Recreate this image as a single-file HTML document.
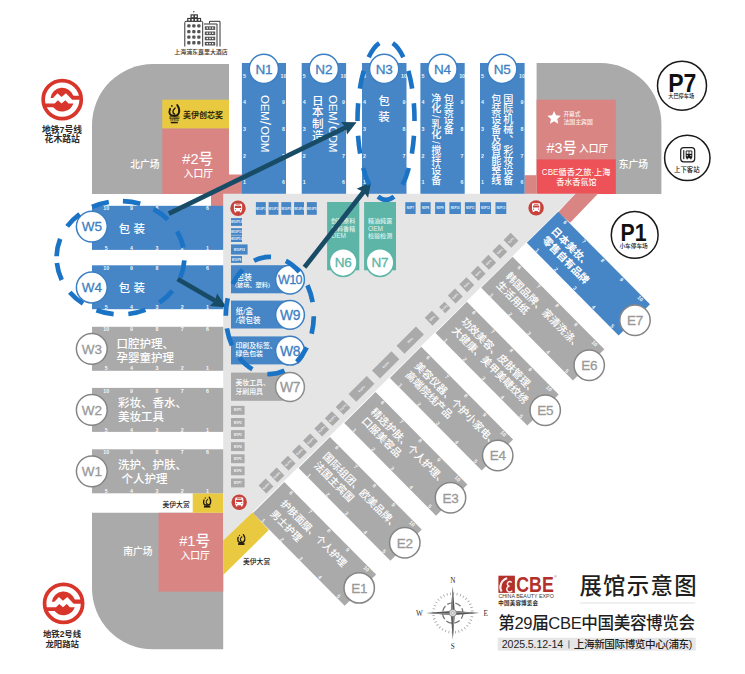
<!DOCTYPE html>
<html lang="zh-CN"><head><meta charset="utf-8"><title>展馆示意图</title>
<style>
html,body{margin:0;padding:0;background:#fff;}
body{width:745px;height:674px;overflow:hidden;}
svg{display:block;font-family:"Liberation Sans","Noto Sans CJK SC",sans-serif;}
</style></head><body>
<svg width="745" height="674" viewBox="0 0 745 674">
<rect width="745" height="674" fill="#fff"/>
<path d="M92 194 V125 A61 61 0 0 1 153 64 H229 V194 Z" fill="#aaaaaa"/>
<path d="M536.6 63 H600.4 A61 61 0 0 1 661.4 124 V194 H536.6 Z" fill="#aaaaaa"/>
<path d="M92 512.8 H223.2 V649.3 H153 A61 61 0 0 1 92 588.3 Z" fill="#aaaaaa"/>
<rect x="162.30" y="99.70" width="66.70" height="28.90" fill="#e9c93f" />
<rect x="162.30" y="128.60" width="66.70" height="65.40" fill="#d88584" />
<rect x="211.00" y="174.50" width="31.00" height="31.50" fill="#d88584" />
<rect x="536.60" y="99.70" width="79.20" height="59.60" fill="#d88584" />
<rect x="536.60" y="159.30" width="79.20" height="34.70" fill="#ee5259" />
<rect x="524.50" y="175.20" width="12.10" height="18.80" fill="#d88584" />
<polygon points="575.5,193.5 598.2,193.5 570.1,222.7 557.9,212.4" fill="#d88584"/>
<rect x="158.50" y="512.80" width="64.70" height="78.80" fill="#d88584" />
<rect x="192.70" y="493.30" width="30.50" height="19.50" fill="#e9c93f" />
<polygon points="223.2,193.8 575.7,193.8 223.2,541" fill="#e5e5e5"/>
<polygon points="223.2,540.5 252.4,512.4 268.8,530.1 223.2,574.9" fill="#e9c93f"/>
<rect x="241.90" y="63.00" width="44.10" height="130.80" fill="#4686c6" />
<text x="244.50" y="77.61" font-size="5.3" fill="#fff" text-anchor="middle" font-weight="700" fill-opacity="0.92" >5</text>
<text x="283.40" y="77.61" font-size="5.3" fill="#fff" text-anchor="middle" font-weight="700" fill-opacity="0.92" >10</text>
<text x="244.50" y="104.31" font-size="5.3" fill="#fff" text-anchor="middle" font-weight="700" fill-opacity="0.92" >4</text>
<text x="283.40" y="104.31" font-size="5.3" fill="#fff" text-anchor="middle" font-weight="700" fill-opacity="0.92" >9</text>
<text x="244.50" y="131.01" font-size="5.3" fill="#fff" text-anchor="middle" font-weight="700" fill-opacity="0.92" >3</text>
<text x="283.40" y="131.01" font-size="5.3" fill="#fff" text-anchor="middle" font-weight="700" fill-opacity="0.92" >8</text>
<text x="244.50" y="157.71" font-size="5.3" fill="#fff" text-anchor="middle" font-weight="700" fill-opacity="0.92" >2</text>
<text x="283.40" y="157.71" font-size="5.3" fill="#fff" text-anchor="middle" font-weight="700" fill-opacity="0.92" >7</text>
<text x="244.50" y="184.41" font-size="5.3" fill="#fff" text-anchor="middle" font-weight="700" fill-opacity="0.92" >1</text>
<text x="283.40" y="184.41" font-size="5.3" fill="#fff" text-anchor="middle" font-weight="700" fill-opacity="0.92" >6</text>
<rect x="301.70" y="63.00" width="44.40" height="130.80" fill="#4686c6" />
<text x="304.30" y="77.61" font-size="5.3" fill="#fff" text-anchor="middle" font-weight="700" fill-opacity="0.92" >5</text>
<text x="343.50" y="77.61" font-size="5.3" fill="#fff" text-anchor="middle" font-weight="700" fill-opacity="0.92" >10</text>
<text x="304.30" y="104.31" font-size="5.3" fill="#fff" text-anchor="middle" font-weight="700" fill-opacity="0.92" >4</text>
<text x="343.50" y="104.31" font-size="5.3" fill="#fff" text-anchor="middle" font-weight="700" fill-opacity="0.92" >9</text>
<text x="304.30" y="131.01" font-size="5.3" fill="#fff" text-anchor="middle" font-weight="700" fill-opacity="0.92" >3</text>
<text x="343.50" y="131.01" font-size="5.3" fill="#fff" text-anchor="middle" font-weight="700" fill-opacity="0.92" >8</text>
<text x="304.30" y="157.71" font-size="5.3" fill="#fff" text-anchor="middle" font-weight="700" fill-opacity="0.92" >2</text>
<text x="343.50" y="157.71" font-size="5.3" fill="#fff" text-anchor="middle" font-weight="700" fill-opacity="0.92" >7</text>
<text x="304.30" y="184.41" font-size="5.3" fill="#fff" text-anchor="middle" font-weight="700" fill-opacity="0.92" >1</text>
<text x="343.50" y="184.41" font-size="5.3" fill="#fff" text-anchor="middle" font-weight="700" fill-opacity="0.92" >6</text>
<rect x="362.00" y="63.00" width="44.50" height="130.80" fill="#4686c6" />
<text x="364.60" y="77.61" font-size="5.3" fill="#fff" text-anchor="middle" font-weight="700" fill-opacity="0.92" >5</text>
<text x="403.90" y="77.61" font-size="5.3" fill="#fff" text-anchor="middle" font-weight="700" fill-opacity="0.92" >10</text>
<text x="364.60" y="104.31" font-size="5.3" fill="#fff" text-anchor="middle" font-weight="700" fill-opacity="0.92" >4</text>
<text x="403.90" y="104.31" font-size="5.3" fill="#fff" text-anchor="middle" font-weight="700" fill-opacity="0.92" >9</text>
<text x="364.60" y="131.01" font-size="5.3" fill="#fff" text-anchor="middle" font-weight="700" fill-opacity="0.92" >3</text>
<text x="403.90" y="131.01" font-size="5.3" fill="#fff" text-anchor="middle" font-weight="700" fill-opacity="0.92" >8</text>
<text x="364.60" y="157.71" font-size="5.3" fill="#fff" text-anchor="middle" font-weight="700" fill-opacity="0.92" >2</text>
<text x="403.90" y="157.71" font-size="5.3" fill="#fff" text-anchor="middle" font-weight="700" fill-opacity="0.92" >7</text>
<text x="364.60" y="184.41" font-size="5.3" fill="#fff" text-anchor="middle" font-weight="700" fill-opacity="0.92" >1</text>
<text x="403.90" y="184.41" font-size="5.3" fill="#fff" text-anchor="middle" font-weight="700" fill-opacity="0.92" >6</text>
<rect x="420.40" y="63.00" width="44.30" height="130.80" fill="#4686c6" />
<text x="423.00" y="77.61" font-size="5.3" fill="#fff" text-anchor="middle" font-weight="700" fill-opacity="0.92" >5</text>
<text x="462.10" y="77.61" font-size="5.3" fill="#fff" text-anchor="middle" font-weight="700" fill-opacity="0.92" >10</text>
<text x="423.00" y="104.31" font-size="5.3" fill="#fff" text-anchor="middle" font-weight="700" fill-opacity="0.92" >4</text>
<text x="462.10" y="104.31" font-size="5.3" fill="#fff" text-anchor="middle" font-weight="700" fill-opacity="0.92" >9</text>
<text x="423.00" y="131.01" font-size="5.3" fill="#fff" text-anchor="middle" font-weight="700" fill-opacity="0.92" >3</text>
<text x="462.10" y="131.01" font-size="5.3" fill="#fff" text-anchor="middle" font-weight="700" fill-opacity="0.92" >8</text>
<text x="423.00" y="157.71" font-size="5.3" fill="#fff" text-anchor="middle" font-weight="700" fill-opacity="0.92" >2</text>
<text x="462.10" y="157.71" font-size="5.3" fill="#fff" text-anchor="middle" font-weight="700" fill-opacity="0.92" >7</text>
<text x="423.00" y="184.41" font-size="5.3" fill="#fff" text-anchor="middle" font-weight="700" fill-opacity="0.92" >1</text>
<text x="462.10" y="184.41" font-size="5.3" fill="#fff" text-anchor="middle" font-weight="700" fill-opacity="0.92" >6</text>
<rect x="480.00" y="63.00" width="44.60" height="130.80" fill="#4686c6" />
<text x="482.60" y="77.61" font-size="5.3" fill="#fff" text-anchor="middle" font-weight="700" fill-opacity="0.92" >5</text>
<text x="522.00" y="77.61" font-size="5.3" fill="#fff" text-anchor="middle" font-weight="700" fill-opacity="0.92" >10</text>
<text x="482.60" y="104.31" font-size="5.3" fill="#fff" text-anchor="middle" font-weight="700" fill-opacity="0.92" >4</text>
<text x="522.00" y="104.31" font-size="5.3" fill="#fff" text-anchor="middle" font-weight="700" fill-opacity="0.92" >9</text>
<text x="482.60" y="131.01" font-size="5.3" fill="#fff" text-anchor="middle" font-weight="700" fill-opacity="0.92" >3</text>
<text x="522.00" y="131.01" font-size="5.3" fill="#fff" text-anchor="middle" font-weight="700" fill-opacity="0.92" >8</text>
<text x="482.60" y="157.71" font-size="5.3" fill="#fff" text-anchor="middle" font-weight="700" fill-opacity="0.92" >2</text>
<text x="522.00" y="157.71" font-size="5.3" fill="#fff" text-anchor="middle" font-weight="700" fill-opacity="0.92" >7</text>
<text x="482.60" y="184.41" font-size="5.3" fill="#fff" text-anchor="middle" font-weight="700" fill-opacity="0.92" >1</text>
<text x="522.00" y="184.41" font-size="5.3" fill="#fff" text-anchor="middle" font-weight="700" fill-opacity="0.92" >6</text>
<rect x="92.00" y="449.30" width="131.20" height="44.00" fill="#aaaaaa" />
<text x="106.30" y="453.91" font-size="5.3" fill="#fff" text-anchor="middle" font-weight="700" fill-opacity="0.92" >10</text>
<text x="106.30" y="492.91" font-size="5.3" fill="#fff" text-anchor="middle" font-weight="700" fill-opacity="0.92" >5</text>
<text x="131.60" y="453.91" font-size="5.3" fill="#fff" text-anchor="middle" font-weight="700" fill-opacity="0.92" >9</text>
<text x="131.60" y="492.91" font-size="5.3" fill="#fff" text-anchor="middle" font-weight="700" fill-opacity="0.92" >4</text>
<text x="156.90" y="453.91" font-size="5.3" fill="#fff" text-anchor="middle" font-weight="700" fill-opacity="0.92" >8</text>
<text x="156.90" y="492.91" font-size="5.3" fill="#fff" text-anchor="middle" font-weight="700" fill-opacity="0.92" >3</text>
<text x="182.20" y="453.91" font-size="5.3" fill="#fff" text-anchor="middle" font-weight="700" fill-opacity="0.92" >7</text>
<text x="182.20" y="492.91" font-size="5.3" fill="#fff" text-anchor="middle" font-weight="700" fill-opacity="0.92" >2</text>
<text x="207.50" y="453.91" font-size="5.3" fill="#fff" text-anchor="middle" font-weight="700" fill-opacity="0.92" >6</text>
<text x="207.50" y="492.91" font-size="5.3" fill="#fff" text-anchor="middle" font-weight="700" fill-opacity="0.92" >1</text>
<rect x="92.00" y="387.90" width="131.20" height="44.00" fill="#aaaaaa" />
<text x="106.30" y="392.51" font-size="5.3" fill="#fff" text-anchor="middle" font-weight="700" fill-opacity="0.92" >10</text>
<text x="106.30" y="431.51" font-size="5.3" fill="#fff" text-anchor="middle" font-weight="700" fill-opacity="0.92" >5</text>
<text x="131.60" y="392.51" font-size="5.3" fill="#fff" text-anchor="middle" font-weight="700" fill-opacity="0.92" >9</text>
<text x="131.60" y="431.51" font-size="5.3" fill="#fff" text-anchor="middle" font-weight="700" fill-opacity="0.92" >4</text>
<text x="156.90" y="392.51" font-size="5.3" fill="#fff" text-anchor="middle" font-weight="700" fill-opacity="0.92" >8</text>
<text x="156.90" y="431.51" font-size="5.3" fill="#fff" text-anchor="middle" font-weight="700" fill-opacity="0.92" >3</text>
<text x="182.20" y="392.51" font-size="5.3" fill="#fff" text-anchor="middle" font-weight="700" fill-opacity="0.92" >7</text>
<text x="182.20" y="431.51" font-size="5.3" fill="#fff" text-anchor="middle" font-weight="700" fill-opacity="0.92" >2</text>
<text x="207.50" y="392.51" font-size="5.3" fill="#fff" text-anchor="middle" font-weight="700" fill-opacity="0.92" >6</text>
<text x="207.50" y="431.51" font-size="5.3" fill="#fff" text-anchor="middle" font-weight="700" fill-opacity="0.92" >1</text>
<rect x="92.00" y="326.80" width="131.20" height="44.00" fill="#aaaaaa" />
<text x="106.30" y="331.41" font-size="5.3" fill="#fff" text-anchor="middle" font-weight="700" fill-opacity="0.92" >10</text>
<text x="106.30" y="370.41" font-size="5.3" fill="#fff" text-anchor="middle" font-weight="700" fill-opacity="0.92" >5</text>
<text x="131.60" y="331.41" font-size="5.3" fill="#fff" text-anchor="middle" font-weight="700" fill-opacity="0.92" >9</text>
<text x="131.60" y="370.41" font-size="5.3" fill="#fff" text-anchor="middle" font-weight="700" fill-opacity="0.92" >4</text>
<text x="156.90" y="331.41" font-size="5.3" fill="#fff" text-anchor="middle" font-weight="700" fill-opacity="0.92" >8</text>
<text x="156.90" y="370.41" font-size="5.3" fill="#fff" text-anchor="middle" font-weight="700" fill-opacity="0.92" >3</text>
<text x="182.20" y="331.41" font-size="5.3" fill="#fff" text-anchor="middle" font-weight="700" fill-opacity="0.92" >7</text>
<text x="182.20" y="370.41" font-size="5.3" fill="#fff" text-anchor="middle" font-weight="700" fill-opacity="0.92" >2</text>
<text x="207.50" y="331.41" font-size="5.3" fill="#fff" text-anchor="middle" font-weight="700" fill-opacity="0.92" >6</text>
<text x="207.50" y="370.41" font-size="5.3" fill="#fff" text-anchor="middle" font-weight="700" fill-opacity="0.92" >1</text>
<rect x="92.00" y="265.30" width="131.20" height="43.90" fill="#4686c6" />
<text x="106.30" y="269.91" font-size="5.3" fill="#fff" text-anchor="middle" font-weight="700" fill-opacity="0.92" >10</text>
<text x="106.30" y="308.81" font-size="5.3" fill="#fff" text-anchor="middle" font-weight="700" fill-opacity="0.92" >5</text>
<text x="131.60" y="269.91" font-size="5.3" fill="#fff" text-anchor="middle" font-weight="700" fill-opacity="0.92" >9</text>
<text x="131.60" y="308.81" font-size="5.3" fill="#fff" text-anchor="middle" font-weight="700" fill-opacity="0.92" >4</text>
<text x="156.90" y="269.91" font-size="5.3" fill="#fff" text-anchor="middle" font-weight="700" fill-opacity="0.92" >8</text>
<text x="156.90" y="308.81" font-size="5.3" fill="#fff" text-anchor="middle" font-weight="700" fill-opacity="0.92" >3</text>
<text x="182.20" y="269.91" font-size="5.3" fill="#fff" text-anchor="middle" font-weight="700" fill-opacity="0.92" >7</text>
<text x="182.20" y="308.81" font-size="5.3" fill="#fff" text-anchor="middle" font-weight="700" fill-opacity="0.92" >2</text>
<text x="207.50" y="269.91" font-size="5.3" fill="#fff" text-anchor="middle" font-weight="700" fill-opacity="0.92" >6</text>
<text x="207.50" y="308.81" font-size="5.3" fill="#fff" text-anchor="middle" font-weight="700" fill-opacity="0.92" >1</text>
<rect x="92.00" y="205.80" width="131.20" height="44.10" fill="#4686c6" />
<text x="106.30" y="210.41" font-size="5.3" fill="#fff" text-anchor="middle" font-weight="700" fill-opacity="0.92" >10</text>
<text x="106.30" y="249.51" font-size="5.3" fill="#fff" text-anchor="middle" font-weight="700" fill-opacity="0.92" >5</text>
<text x="131.60" y="210.41" font-size="5.3" fill="#fff" text-anchor="middle" font-weight="700" fill-opacity="0.92" >9</text>
<text x="131.60" y="249.51" font-size="5.3" fill="#fff" text-anchor="middle" font-weight="700" fill-opacity="0.92" >4</text>
<text x="156.90" y="210.41" font-size="5.3" fill="#fff" text-anchor="middle" font-weight="700" fill-opacity="0.92" >8</text>
<text x="156.90" y="249.51" font-size="5.3" fill="#fff" text-anchor="middle" font-weight="700" fill-opacity="0.92" >3</text>
<text x="182.20" y="210.41" font-size="5.3" fill="#fff" text-anchor="middle" font-weight="700" fill-opacity="0.92" >7</text>
<text x="182.20" y="249.51" font-size="5.3" fill="#fff" text-anchor="middle" font-weight="700" fill-opacity="0.92" >2</text>
<text x="207.50" y="210.41" font-size="5.3" fill="#fff" text-anchor="middle" font-weight="700" fill-opacity="0.92" >6</text>
<text x="207.50" y="249.51" font-size="5.3" fill="#fff" text-anchor="middle" font-weight="700" fill-opacity="0.92" >1</text>
<g transform="translate(284.30,482.00) rotate(45.25)">
<rect x="0.00" y="0.00" width="130.40" height="44.20" fill="#aaaaaa" />
<text x="12.60" y="4.61" font-size="5.3" fill="#fff" text-anchor="middle" font-weight="700" fill-opacity="0.92" >6</text>
<text x="12.60" y="43.81" font-size="5.3" fill="#fff" text-anchor="middle" font-weight="700" fill-opacity="0.92" >1</text>
<text x="39.30" y="4.61" font-size="5.3" fill="#fff" text-anchor="middle" font-weight="700" fill-opacity="0.92" >7</text>
<text x="39.30" y="43.81" font-size="5.3" fill="#fff" text-anchor="middle" font-weight="700" fill-opacity="0.92" >2</text>
<text x="66.00" y="4.61" font-size="5.3" fill="#fff" text-anchor="middle" font-weight="700" fill-opacity="0.92" >8</text>
<text x="66.00" y="43.81" font-size="5.3" fill="#fff" text-anchor="middle" font-weight="700" fill-opacity="0.92" >3</text>
<text x="92.70" y="4.61" font-size="5.3" fill="#fff" text-anchor="middle" font-weight="700" fill-opacity="0.92" >9</text>
<text x="92.70" y="43.81" font-size="5.3" fill="#fff" text-anchor="middle" font-weight="700" fill-opacity="0.92" >4</text>
<text x="119.40" y="4.61" font-size="5.3" fill="#fff" text-anchor="middle" font-weight="700" fill-opacity="0.92" >10</text>
<text x="119.40" y="43.81" font-size="5.3" fill="#fff" text-anchor="middle" font-weight="700" fill-opacity="0.92" >5</text>
<text x="12.80" y="18.76" font-size="9.9" fill="#fff" text-anchor="start" font-weight="500" >护肤面膜、个人护理</text>
<text x="12.80" y="33.06" font-size="9.9" fill="#fff" text-anchor="start" font-weight="500" >男士护理</text>
</g>
<g transform="translate(329.95,436.95) rotate(45.25)">
<rect x="0.00" y="0.00" width="130.40" height="44.20" fill="#aaaaaa" />
<text x="12.60" y="4.61" font-size="5.3" fill="#fff" text-anchor="middle" font-weight="700" fill-opacity="0.92" >6</text>
<text x="12.60" y="43.81" font-size="5.3" fill="#fff" text-anchor="middle" font-weight="700" fill-opacity="0.92" >1</text>
<text x="39.30" y="4.61" font-size="5.3" fill="#fff" text-anchor="middle" font-weight="700" fill-opacity="0.92" >7</text>
<text x="39.30" y="43.81" font-size="5.3" fill="#fff" text-anchor="middle" font-weight="700" fill-opacity="0.92" >2</text>
<text x="66.00" y="4.61" font-size="5.3" fill="#fff" text-anchor="middle" font-weight="700" fill-opacity="0.92" >8</text>
<text x="66.00" y="43.81" font-size="5.3" fill="#fff" text-anchor="middle" font-weight="700" fill-opacity="0.92" >3</text>
<text x="92.70" y="4.61" font-size="5.3" fill="#fff" text-anchor="middle" font-weight="700" fill-opacity="0.92" >9</text>
<text x="92.70" y="43.81" font-size="5.3" fill="#fff" text-anchor="middle" font-weight="700" fill-opacity="0.92" >4</text>
<text x="119.40" y="4.61" font-size="5.3" fill="#fff" text-anchor="middle" font-weight="700" fill-opacity="0.92" >10</text>
<text x="119.40" y="43.81" font-size="5.3" fill="#fff" text-anchor="middle" font-weight="700" fill-opacity="0.92" >5</text>
<text x="8.80" y="19.41" font-size="10.3" fill="#fff" text-anchor="start" font-weight="500" >国际组团、欧美品牌、</text>
<text x="8.80" y="32.41" font-size="10.3" fill="#fff" text-anchor="start" font-weight="500" >法国主宾国</text>
</g>
<g transform="translate(375.60,391.90) rotate(45.25)">
<rect x="0.00" y="0.00" width="130.40" height="44.20" fill="#aaaaaa" />
<text x="12.60" y="4.61" font-size="5.3" fill="#fff" text-anchor="middle" font-weight="700" fill-opacity="0.92" >6</text>
<text x="12.60" y="43.81" font-size="5.3" fill="#fff" text-anchor="middle" font-weight="700" fill-opacity="0.92" >1</text>
<text x="39.30" y="4.61" font-size="5.3" fill="#fff" text-anchor="middle" font-weight="700" fill-opacity="0.92" >7</text>
<text x="39.30" y="43.81" font-size="5.3" fill="#fff" text-anchor="middle" font-weight="700" fill-opacity="0.92" >2</text>
<text x="66.00" y="4.61" font-size="5.3" fill="#fff" text-anchor="middle" font-weight="700" fill-opacity="0.92" >8</text>
<text x="66.00" y="43.81" font-size="5.3" fill="#fff" text-anchor="middle" font-weight="700" fill-opacity="0.92" >3</text>
<text x="92.70" y="4.61" font-size="5.3" fill="#fff" text-anchor="middle" font-weight="700" fill-opacity="0.92" >9</text>
<text x="92.70" y="43.81" font-size="5.3" fill="#fff" text-anchor="middle" font-weight="700" fill-opacity="0.92" >4</text>
<text x="119.40" y="4.61" font-size="5.3" fill="#fff" text-anchor="middle" font-weight="700" fill-opacity="0.92" >10</text>
<text x="119.40" y="43.81" font-size="5.3" fill="#fff" text-anchor="middle" font-weight="700" fill-opacity="0.92" >5</text>
<text x="10.80" y="18.21" font-size="10.3" fill="#fff" text-anchor="start" font-weight="500" >精选护肤、个人护理、</text>
<text x="10.80" y="31.21" font-size="10.3" fill="#fff" text-anchor="start" font-weight="500" >口服美容品</text>
</g>
<g transform="translate(421.25,346.85) rotate(45.25)">
<rect x="0.00" y="0.00" width="130.40" height="44.20" fill="#aaaaaa" />
<text x="12.60" y="4.61" font-size="5.3" fill="#fff" text-anchor="middle" font-weight="700" fill-opacity="0.92" >6</text>
<text x="12.60" y="43.81" font-size="5.3" fill="#fff" text-anchor="middle" font-weight="700" fill-opacity="0.92" >1</text>
<text x="39.30" y="4.61" font-size="5.3" fill="#fff" text-anchor="middle" font-weight="700" fill-opacity="0.92" >7</text>
<text x="39.30" y="43.81" font-size="5.3" fill="#fff" text-anchor="middle" font-weight="700" fill-opacity="0.92" >2</text>
<text x="66.00" y="4.61" font-size="5.3" fill="#fff" text-anchor="middle" font-weight="700" fill-opacity="0.92" >8</text>
<text x="66.00" y="43.81" font-size="5.3" fill="#fff" text-anchor="middle" font-weight="700" fill-opacity="0.92" >3</text>
<text x="92.70" y="4.61" font-size="5.3" fill="#fff" text-anchor="middle" font-weight="700" fill-opacity="0.92" >9</text>
<text x="92.70" y="43.81" font-size="5.3" fill="#fff" text-anchor="middle" font-weight="700" fill-opacity="0.92" >4</text>
<text x="119.40" y="4.61" font-size="5.3" fill="#fff" text-anchor="middle" font-weight="700" fill-opacity="0.92" >10</text>
<text x="119.40" y="43.81" font-size="5.3" fill="#fff" text-anchor="middle" font-weight="700" fill-opacity="0.92" >5</text>
<text x="8.80" y="18.91" font-size="10.3" fill="#fff" text-anchor="start" font-weight="500" >美容仪器、个护小家电、</text>
<text x="8.80" y="31.91" font-size="10.3" fill="#fff" text-anchor="start" font-weight="500" >高端院线产品</text>
</g>
<g transform="translate(466.90,301.80) rotate(45.25)">
<rect x="0.00" y="0.00" width="130.40" height="44.20" fill="#aaaaaa" />
<text x="12.60" y="4.61" font-size="5.3" fill="#fff" text-anchor="middle" font-weight="700" fill-opacity="0.92" >6</text>
<text x="12.60" y="43.81" font-size="5.3" fill="#fff" text-anchor="middle" font-weight="700" fill-opacity="0.92" >1</text>
<text x="39.30" y="4.61" font-size="5.3" fill="#fff" text-anchor="middle" font-weight="700" fill-opacity="0.92" >7</text>
<text x="39.30" y="43.81" font-size="5.3" fill="#fff" text-anchor="middle" font-weight="700" fill-opacity="0.92" >2</text>
<text x="66.00" y="4.61" font-size="5.3" fill="#fff" text-anchor="middle" font-weight="700" fill-opacity="0.92" >8</text>
<text x="66.00" y="43.81" font-size="5.3" fill="#fff" text-anchor="middle" font-weight="700" fill-opacity="0.92" >3</text>
<text x="92.70" y="4.61" font-size="5.3" fill="#fff" text-anchor="middle" font-weight="700" fill-opacity="0.92" >9</text>
<text x="92.70" y="43.81" font-size="5.3" fill="#fff" text-anchor="middle" font-weight="700" fill-opacity="0.92" >4</text>
<text x="119.40" y="4.61" font-size="5.3" fill="#fff" text-anchor="middle" font-weight="700" fill-opacity="0.92" >10</text>
<text x="119.40" y="43.81" font-size="5.3" fill="#fff" text-anchor="middle" font-weight="700" fill-opacity="0.92" >5</text>
<text x="9.80" y="18.71" font-size="10.3" fill="#fff" text-anchor="start" font-weight="500" >功效美容、皮肤管理、</text>
<text x="9.80" y="31.71" font-size="10.3" fill="#fff" text-anchor="start" font-weight="500" >大健康、美甲美睫纹绣</text>
</g>
<g transform="translate(512.55,256.75) rotate(45.25)">
<rect x="0.00" y="0.00" width="130.40" height="44.20" fill="#aaaaaa" />
<text x="12.60" y="4.61" font-size="5.3" fill="#fff" text-anchor="middle" font-weight="700" fill-opacity="0.92" >6</text>
<text x="12.60" y="43.81" font-size="5.3" fill="#fff" text-anchor="middle" font-weight="700" fill-opacity="0.92" >1</text>
<text x="39.30" y="4.61" font-size="5.3" fill="#fff" text-anchor="middle" font-weight="700" fill-opacity="0.92" >7</text>
<text x="39.30" y="43.81" font-size="5.3" fill="#fff" text-anchor="middle" font-weight="700" fill-opacity="0.92" >2</text>
<text x="66.00" y="4.61" font-size="5.3" fill="#fff" text-anchor="middle" font-weight="700" fill-opacity="0.92" >8</text>
<text x="66.00" y="43.81" font-size="5.3" fill="#fff" text-anchor="middle" font-weight="700" fill-opacity="0.92" >3</text>
<text x="92.70" y="4.61" font-size="5.3" fill="#fff" text-anchor="middle" font-weight="700" fill-opacity="0.92" >9</text>
<text x="92.70" y="43.81" font-size="5.3" fill="#fff" text-anchor="middle" font-weight="700" fill-opacity="0.92" >4</text>
<text x="119.40" y="4.61" font-size="5.3" fill="#fff" text-anchor="middle" font-weight="700" fill-opacity="0.92" >10</text>
<text x="119.40" y="43.81" font-size="5.3" fill="#fff" text-anchor="middle" font-weight="700" fill-opacity="0.92" >5</text>
<text x="8.80" y="19.41" font-size="10.3" fill="#fff" text-anchor="start" font-weight="500" >韩国品牌、家清洗涤、</text>
<text x="8.80" y="32.41" font-size="10.3" fill="#fff" text-anchor="start" font-weight="500" >生活用纸</text>
</g>
<g transform="translate(558.20,211.70) rotate(45.25)">
<rect x="0.00" y="0.00" width="130.40" height="44.20" fill="#4686c6" />
<text x="12.60" y="4.61" font-size="5.3" fill="#fff" text-anchor="middle" font-weight="700" fill-opacity="0.92" >6</text>
<text x="12.60" y="43.81" font-size="5.3" fill="#fff" text-anchor="middle" font-weight="700" fill-opacity="0.92" >1</text>
<text x="39.30" y="4.61" font-size="5.3" fill="#fff" text-anchor="middle" font-weight="700" fill-opacity="0.92" >7</text>
<text x="39.30" y="43.81" font-size="5.3" fill="#fff" text-anchor="middle" font-weight="700" fill-opacity="0.92" >2</text>
<text x="66.00" y="4.61" font-size="5.3" fill="#fff" text-anchor="middle" font-weight="700" fill-opacity="0.92" >8</text>
<text x="66.00" y="43.81" font-size="5.3" fill="#fff" text-anchor="middle" font-weight="700" fill-opacity="0.92" >3</text>
<text x="92.70" y="4.61" font-size="5.3" fill="#fff" text-anchor="middle" font-weight="700" fill-opacity="0.92" >9</text>
<text x="92.70" y="43.81" font-size="5.3" fill="#fff" text-anchor="middle" font-weight="700" fill-opacity="0.92" >4</text>
<text x="119.40" y="4.61" font-size="5.3" fill="#fff" text-anchor="middle" font-weight="700" fill-opacity="0.92" >10</text>
<text x="119.40" y="43.81" font-size="5.3" fill="#fff" text-anchor="middle" font-weight="700" fill-opacity="0.92" >5</text>
<text x="8.80" y="19.41" font-size="10.3" fill="#fff" text-anchor="start" font-weight="700" >日本美妆、</text>
<text x="8.80" y="32.41" font-size="10.3" fill="#fff" text-anchor="start" font-weight="700" >零售自有品牌</text>
</g>
<rect x="231.00" y="265.20" width="59.00" height="28.10" fill="#4686c6" />
<rect x="231.00" y="300.60" width="59.00" height="27.90" fill="#4686c6" />
<rect x="231.00" y="336.40" width="59.00" height="28.00" fill="#4686c6" />
<rect x="231.00" y="372.60" width="59.00" height="28.20" fill="#aaaaaa" />
<rect x="327.10" y="202.00" width="32.20" height="68.30" fill="#5cb5a6" />
<rect x="364.10" y="202.00" width="31.90" height="68.30" fill="#5cb5a6" />
<rect x="255.90" y="202.10" width="9.90" height="12.70" fill="#4686c6" />
<text x="260.85" y="209.55" font-size="2.9" fill="#fff" text-anchor="middle" font-weight="700" fill-opacity="0.95" >W10P1</text>
<rect x="268.60" y="202.10" width="9.90" height="12.70" fill="#4686c6" />
<text x="273.55" y="209.55" font-size="2.9" fill="#fff" text-anchor="middle" font-weight="700" fill-opacity="0.95" >W10P2</text>
<rect x="281.30" y="202.10" width="9.90" height="12.70" fill="#4686c6" />
<text x="286.25" y="209.55" font-size="2.9" fill="#fff" text-anchor="middle" font-weight="700" fill-opacity="0.95" >W10P3</text>
<rect x="294.10" y="202.10" width="9.90" height="12.70" fill="#4686c6" />
<text x="299.05" y="209.55" font-size="2.9" fill="#fff" text-anchor="middle" font-weight="700" fill-opacity="0.95" >W10P4</text>
<rect x="306.90" y="202.10" width="9.90" height="12.70" fill="#4686c6" />
<text x="311.85" y="209.55" font-size="2.9" fill="#fff" text-anchor="middle" font-weight="700" fill-opacity="0.95" >W10P5</text>
<rect x="231.00" y="218.10" width="11.00" height="7.80" fill="#4686c6" />
<text x="236.50" y="223.10" font-size="2.9" fill="#fff" text-anchor="middle" font-weight="700" fill-opacity="0.95" >W10P12</text>
<rect x="231.00" y="228.20" width="11.00" height="6.70" fill="#4686c6" />
<text x="236.50" y="232.65" font-size="2.9" fill="#fff" text-anchor="middle" font-weight="700" fill-opacity="0.95" >W10P11</text>
<rect x="231.00" y="235.40" width="11.00" height="6.60" fill="#4686c6" />
<text x="236.50" y="239.80" font-size="2.9" fill="#fff" text-anchor="middle" font-weight="700" fill-opacity="0.95" >W10P10</text>
<rect x="231.00" y="244.40" width="16.60" height="10.20" fill="#4686c6" />
<text x="239.30" y="250.60" font-size="2.9" fill="#fff" text-anchor="middle" font-weight="700" fill-opacity="0.95" >W10P18</text>
<rect x="231.00" y="256.10" width="11.00" height="6.80" fill="#4686c6" />
<text x="236.50" y="260.60" font-size="2.9" fill="#fff" text-anchor="middle" font-weight="700" fill-opacity="0.95" >W10P9</text>
<rect x="405.30" y="202.20" width="10.30" height="11.80" fill="#4686c6" />
<text x="410.45" y="209.20" font-size="2.9" fill="#fff" text-anchor="middle" font-weight="700" fill-opacity="0.95" >N5P7</text>
<rect x="420.60" y="202.20" width="10.00" height="11.80" fill="#4686c6" />
<text x="425.60" y="209.20" font-size="2.9" fill="#fff" text-anchor="middle" font-weight="700" fill-opacity="0.95" >N5P8</text>
<rect x="435.10" y="202.20" width="10.00" height="11.80" fill="#4686c6" />
<text x="440.10" y="209.20" font-size="2.9" fill="#fff" text-anchor="middle" font-weight="700" fill-opacity="0.95" >N5P9</text>
<rect x="449.40" y="202.20" width="11.50" height="11.80" fill="#4686c6" />
<text x="455.15" y="209.20" font-size="2.9" fill="#fff" text-anchor="middle" font-weight="700" fill-opacity="0.95" >N5P10</text>
<rect x="464.90" y="202.20" width="10.80" height="11.80" fill="#4686c6" />
<text x="470.30" y="209.20" font-size="2.9" fill="#fff" text-anchor="middle" font-weight="700" fill-opacity="0.95" >N5P11</text>
<rect x="480.00" y="202.20" width="11.00" height="11.80" fill="#4686c6" />
<text x="485.50" y="209.20" font-size="2.9" fill="#fff" text-anchor="middle" font-weight="700" fill-opacity="0.95" >N5P12</text>
<rect x="495.50" y="202.20" width="10.80" height="11.80" fill="#4686c6" />
<text x="500.90" y="209.20" font-size="2.9" fill="#fff" text-anchor="middle" font-weight="700" fill-opacity="0.95" >N5P13</text>
<rect x="231.00" y="405.90" width="13.60" height="8.90" fill="#aaaaaa" />
<text x="237.80" y="411.45" font-size="2.9" fill="#fff" text-anchor="middle" font-weight="700" fill-opacity="0.95" >W1P1</text>
<rect x="231.00" y="418.00" width="13.60" height="8.90" fill="#aaaaaa" />
<text x="237.80" y="423.55" font-size="2.9" fill="#fff" text-anchor="middle" font-weight="700" fill-opacity="0.95" >W1P2</text>
<rect x="231.00" y="430.10" width="13.60" height="8.90" fill="#aaaaaa" />
<text x="237.80" y="435.65" font-size="2.9" fill="#fff" text-anchor="middle" font-weight="700" fill-opacity="0.95" >W1P3</text>
<rect x="231.00" y="442.20" width="13.60" height="8.90" fill="#aaaaaa" />
<text x="237.80" y="447.75" font-size="2.9" fill="#fff" text-anchor="middle" font-weight="700" fill-opacity="0.95" >W1P4</text>
<rect x="231.00" y="454.30" width="13.60" height="8.90" fill="#aaaaaa" />
<text x="237.80" y="459.85" font-size="2.9" fill="#fff" text-anchor="middle" font-weight="700" fill-opacity="0.95" >W1P5</text>
<rect x="231.00" y="466.40" width="13.60" height="8.90" fill="#aaaaaa" />
<text x="237.80" y="471.95" font-size="2.9" fill="#fff" text-anchor="middle" font-weight="700" fill-opacity="0.95" >W1P6</text>
<rect x="231.00" y="478.50" width="13.60" height="8.90" fill="#aaaaaa" />
<text x="237.80" y="484.05" font-size="2.9" fill="#fff" text-anchor="middle" font-weight="700" fill-opacity="0.95" >W1P7</text>
<g transform="translate(511.00,240.30) rotate(-44.75)">
<rect x="-5.00" y="-5.50" width="10.00" height="11.00" fill="#aaaaaa" />
<text x="0.00" y="1.06" font-size="2.8" fill="#fff" text-anchor="middle" font-weight="700" fill-opacity="0.95" >E1P1</text>
</g>
<g transform="translate(499.80,251.40) rotate(-44.75)">
<rect x="-5.00" y="-5.50" width="10.00" height="11.00" fill="#aaaaaa" />
<text x="0.00" y="1.06" font-size="2.8" fill="#fff" text-anchor="middle" font-weight="700" fill-opacity="0.95" >E2P1</text>
</g>
<g transform="translate(488.70,262.30) rotate(-44.75)">
<rect x="-5.00" y="-5.50" width="10.00" height="11.00" fill="#aaaaaa" />
<text x="0.00" y="1.06" font-size="2.8" fill="#fff" text-anchor="middle" font-weight="700" fill-opacity="0.95" >E3P1</text>
</g>
<g transform="translate(478.20,273.30) rotate(-44.75)">
<rect x="-5.00" y="-5.50" width="10.00" height="11.00" fill="#aaaaaa" />
<text x="0.00" y="1.06" font-size="2.8" fill="#fff" text-anchor="middle" font-weight="700" fill-opacity="0.95" >E4P1</text>
</g>
<g transform="translate(466.80,284.70) rotate(-44.75)">
<rect x="-5.00" y="-5.50" width="10.00" height="11.00" fill="#aaaaaa" />
<text x="0.00" y="1.06" font-size="2.8" fill="#fff" text-anchor="middle" font-weight="700" fill-opacity="0.95" >E5P1</text>
</g>
<g transform="translate(455.30,296.00) rotate(-44.75)">
<rect x="-5.00" y="-5.50" width="10.00" height="11.00" fill="#aaaaaa" />
<text x="0.00" y="1.06" font-size="2.8" fill="#fff" text-anchor="middle" font-weight="700" fill-opacity="0.95" >E6P1</text>
</g>
<g transform="translate(444.80,307.50) rotate(-44.75)">
<rect x="-3.75" y="-4.25" width="7.50" height="8.50" fill="#aaaaaa" />
<text x="0.00" y="1.06" font-size="2.8" fill="#fff" text-anchor="middle" font-weight="700" fill-opacity="0.95" >E7P1</text>
</g>
<g transform="translate(432.20,318.20) rotate(-44.75)">
<rect x="-5.00" y="-5.50" width="10.00" height="11.00" fill="#aaaaaa" />
<text x="0.00" y="1.06" font-size="2.8" fill="#fff" text-anchor="middle" font-weight="700" fill-opacity="0.95" >E8P1</text>
</g>
<g transform="translate(410.20,340.20) rotate(-44.75)">
<rect x="-13.65" y="-5.65" width="27.30" height="11.30" fill="#aaaaaa" />
<text x="0.00" y="1.06" font-size="2.8" fill="#fff" text-anchor="middle" font-weight="700" fill-opacity="0.95" >E9P1</text>
</g>
<g transform="translate(385.70,364.80) rotate(-44.75)">
<rect x="-13.65" y="-5.65" width="27.30" height="11.30" fill="#aaaaaa" />
<text x="0.00" y="1.06" font-size="2.8" fill="#fff" text-anchor="middle" font-weight="700" fill-opacity="0.95" >E10P1</text>
</g>
<g transform="translate(361.50,388.90) rotate(-44.75)">
<rect x="-12.80" y="-5.50" width="25.60" height="11.00" fill="#aaaaaa" />
<text x="0.00" y="1.06" font-size="2.8" fill="#fff" text-anchor="middle" font-weight="700" fill-opacity="0.95" >E11P1</text>
</g>
<g transform="translate(343.10,407.40) rotate(-44.75)">
<rect x="-5.00" y="-5.50" width="10.00" height="11.00" fill="#aaaaaa" />
<text x="0.00" y="1.06" font-size="2.8" fill="#fff" text-anchor="middle" font-weight="700" fill-opacity="0.95" >E12P1</text>
</g>
<g transform="translate(332.20,418.60) rotate(-44.75)">
<rect x="-5.00" y="-5.50" width="10.00" height="11.00" fill="#aaaaaa" />
<text x="0.00" y="1.06" font-size="2.8" fill="#fff" text-anchor="middle" font-weight="700" fill-opacity="0.95" >E13P1</text>
</g>
<g transform="translate(321.80,429.00) rotate(-44.75)">
<rect x="-5.00" y="-5.50" width="10.00" height="11.00" fill="#aaaaaa" />
<text x="0.00" y="1.06" font-size="2.8" fill="#fff" text-anchor="middle" font-weight="700" fill-opacity="0.95" >E14P1</text>
</g>
<g transform="translate(310.50,440.90) rotate(-44.75)">
<rect x="-5.00" y="-5.50" width="10.00" height="11.00" fill="#aaaaaa" />
<text x="0.00" y="1.06" font-size="2.8" fill="#fff" text-anchor="middle" font-weight="700" fill-opacity="0.95" >E15P1</text>
</g>
<g transform="translate(299.50,451.90) rotate(-44.75)">
<rect x="-5.00" y="-5.50" width="10.00" height="11.00" fill="#aaaaaa" />
<text x="0.00" y="1.06" font-size="2.8" fill="#fff" text-anchor="middle" font-weight="700" fill-opacity="0.95" >E16P1</text>
</g>
<g transform="translate(288.20,463.10) rotate(-44.75)">
<rect x="-5.00" y="-5.50" width="10.00" height="11.00" fill="#aaaaaa" />
<text x="0.00" y="1.06" font-size="2.8" fill="#fff" text-anchor="middle" font-weight="700" fill-opacity="0.95" >E17P1</text>
</g>
<g transform="translate(277.00,475.00) rotate(-44.75)">
<rect x="-5.00" y="-5.50" width="10.00" height="11.00" fill="#aaaaaa" />
<text x="0.00" y="1.06" font-size="2.8" fill="#fff" text-anchor="middle" font-weight="700" fill-opacity="0.95" >E18P1</text>
</g>
<g transform="translate(266.00,486.00) rotate(-44.75)">
<rect x="-5.00" y="-5.50" width="10.00" height="11.00" fill="#aaaaaa" />
<text x="0.00" y="1.06" font-size="2.8" fill="#fff" text-anchor="middle" font-weight="700" fill-opacity="0.95" >E19P1</text>
</g>
<circle cx="263.85" cy="68.90" r="14.6" fill="#fff" stroke="#3d7fc3" stroke-width="1.5"/>
<text x="263.85" y="73.76" font-size="13.5" fill="#3d7fc3" text-anchor="middle" font-weight="400" letter-spacing="-0.2" stroke="#3d7fc3" stroke-width="0.3">N1</text>
<circle cx="323.80" cy="68.90" r="14.6" fill="#fff" stroke="#3d7fc3" stroke-width="1.5"/>
<text x="323.80" y="73.76" font-size="13.5" fill="#3d7fc3" text-anchor="middle" font-weight="400" letter-spacing="-0.2" stroke="#3d7fc3" stroke-width="0.3">N2</text>
<circle cx="384.15" cy="68.90" r="14.6" fill="#fff" stroke="#3d7fc3" stroke-width="1.5"/>
<text x="384.15" y="73.76" font-size="13.5" fill="#3d7fc3" text-anchor="middle" font-weight="400" letter-spacing="-0.2" stroke="#3d7fc3" stroke-width="0.3">N3</text>
<circle cx="442.45" cy="68.90" r="14.6" fill="#fff" stroke="#3d7fc3" stroke-width="1.5"/>
<text x="442.45" y="73.76" font-size="13.5" fill="#3d7fc3" text-anchor="middle" font-weight="400" letter-spacing="-0.2" stroke="#3d7fc3" stroke-width="0.3">N4</text>
<circle cx="502.20" cy="68.90" r="14.6" fill="#fff" stroke="#3d7fc3" stroke-width="1.5"/>
<text x="502.20" y="73.76" font-size="13.5" fill="#3d7fc3" text-anchor="middle" font-weight="400" letter-spacing="-0.2" stroke="#3d7fc3" stroke-width="0.3">N5</text>
<circle cx="91.80" cy="471.30" r="15.4" fill="#fff" stroke="#858585" stroke-width="1.5"/>
<text x="91.80" y="476.16" font-size="13.5" fill="#999" text-anchor="middle" font-weight="400" letter-spacing="-0.2" stroke="#999" stroke-width="0.3">W1</text>
<circle cx="91.80" cy="409.90" r="15.4" fill="#fff" stroke="#858585" stroke-width="1.5"/>
<text x="91.80" y="414.76" font-size="13.5" fill="#999" text-anchor="middle" font-weight="400" letter-spacing="-0.2" stroke="#999" stroke-width="0.3">W2</text>
<circle cx="91.80" cy="348.80" r="15.4" fill="#fff" stroke="#858585" stroke-width="1.5"/>
<text x="91.80" y="353.66" font-size="13.5" fill="#999" text-anchor="middle" font-weight="400" letter-spacing="-0.2" stroke="#999" stroke-width="0.3">W3</text>
<circle cx="91.80" cy="287.50" r="15.4" fill="#fff" stroke="#3d7fc3" stroke-width="1.5"/>
<text x="91.80" y="292.36" font-size="13.5" fill="#3d7fc3" text-anchor="middle" font-weight="400" letter-spacing="-0.2" stroke="#3d7fc3" stroke-width="0.3">W4</text>
<circle cx="91.80" cy="226.60" r="15.4" fill="#fff" stroke="#3d7fc3" stroke-width="1.5"/>
<text x="91.80" y="231.46" font-size="13.5" fill="#3d7fc3" text-anchor="middle" font-weight="400" letter-spacing="-0.2" stroke="#3d7fc3" stroke-width="0.3">W5</text>
<circle cx="359.20" cy="587.90" r="15.2" fill="#fff" stroke="#858585" stroke-width="1.5"/>
<text x="359.20" y="592.76" font-size="13.5" fill="#999" text-anchor="middle" font-weight="400" letter-spacing="-0.2" stroke="#999" stroke-width="0.3">E1</text>
<circle cx="404.80" cy="542.80" r="15.2" fill="#fff" stroke="#858585" stroke-width="1.5"/>
<text x="404.80" y="547.66" font-size="13.5" fill="#999" text-anchor="middle" font-weight="400" letter-spacing="-0.2" stroke="#999" stroke-width="0.3">E2</text>
<circle cx="450.50" cy="497.80" r="15.2" fill="#fff" stroke="#858585" stroke-width="1.5"/>
<text x="450.50" y="502.66" font-size="13.5" fill="#999" text-anchor="middle" font-weight="400" letter-spacing="-0.2" stroke="#999" stroke-width="0.3">E3</text>
<circle cx="497.70" cy="455.50" r="15.2" fill="#fff" stroke="#858585" stroke-width="1.5"/>
<text x="497.70" y="460.36" font-size="13.5" fill="#999" text-anchor="middle" font-weight="400" letter-spacing="-0.2" stroke="#999" stroke-width="0.3">E4</text>
<circle cx="545.20" cy="410.30" r="15.2" fill="#fff" stroke="#858585" stroke-width="1.5"/>
<text x="545.20" y="415.16" font-size="13.5" fill="#999" text-anchor="middle" font-weight="400" letter-spacing="-0.2" stroke="#999" stroke-width="0.3">E5</text>
<circle cx="589.20" cy="365.30" r="15.2" fill="#fff" stroke="#858585" stroke-width="1.5"/>
<text x="589.20" y="370.16" font-size="13.5" fill="#999" text-anchor="middle" font-weight="400" letter-spacing="-0.2" stroke="#999" stroke-width="0.3">E6</text>
<circle cx="635.00" cy="320.30" r="15.2" fill="#fff" stroke="#858585" stroke-width="1.5"/>
<text x="635.00" y="325.16" font-size="13.5" fill="#999" text-anchor="middle" font-weight="400" letter-spacing="-0.2" stroke="#999" stroke-width="0.3">E7</text>
<circle cx="290.00" cy="279.55" r="14.4" fill="#fff" stroke="#3d7fc3" stroke-width="1.5"/>
<text x="290.00" y="284.09" font-size="12.6" fill="#3d7fc3" text-anchor="middle" font-weight="400" letter-spacing="-0.7" stroke="#3d7fc3" stroke-width="0.3">W10</text>
<circle cx="290.00" cy="314.85" r="14.4" fill="#fff" stroke="#3d7fc3" stroke-width="1.5"/>
<text x="290.00" y="319.82" font-size="13.8" fill="#3d7fc3" text-anchor="middle" font-weight="400" letter-spacing="-0.3" stroke="#3d7fc3" stroke-width="0.3">W9</text>
<circle cx="290.00" cy="350.70" r="14.4" fill="#fff" stroke="#3d7fc3" stroke-width="1.5"/>
<text x="290.00" y="355.67" font-size="13.8" fill="#3d7fc3" text-anchor="middle" font-weight="400" letter-spacing="-0.3" stroke="#3d7fc3" stroke-width="0.3">W8</text>
<circle cx="290.00" cy="387.00" r="14.4" fill="#fff" stroke="#8c8c8c" stroke-width="1.5"/>
<text x="290.00" y="391.97" font-size="13.8" fill="#999" text-anchor="middle" font-weight="400" letter-spacing="-0.3" stroke="#999" stroke-width="0.3">W7</text>
<circle cx="343.20" cy="262.60" r="13.8" fill="#fff" stroke="#5cb5a6" stroke-width="1.5"/>
<text x="343.20" y="267.46" font-size="13.5" fill="#5cb5a6" text-anchor="middle" font-weight="400" letter-spacing="-0.2" stroke="#5cb5a6" stroke-width="0.3">N6</text>
<circle cx="380.00" cy="262.60" r="13.8" fill="#fff" stroke="#5cb5a6" stroke-width="1.5"/>
<text x="380.00" y="267.46" font-size="13.5" fill="#5cb5a6" text-anchor="middle" font-weight="400" letter-spacing="-0.2" stroke="#5cb5a6" stroke-width="0.3">N7</text>
<text x="118.40" y="232.97" font-size="11.5" fill="#fff" text-anchor="start" font-weight="500" ><tspan letter-spacing="3.6">包</tspan>装</text>
<text x="118.40" y="292.17" font-size="11.5" fill="#fff" text-anchor="start" font-weight="500" ><tspan letter-spacing="3.6">包</tspan>装</text>
<text x="116.50" y="347.97" font-size="11.5" fill="#fff" text-anchor="start" font-weight="500" >口腔护理、</text>
<text x="116.50" y="361.57" font-size="11.5" fill="#fff" text-anchor="start" font-weight="500" >孕婴童护理</text>
<text x="117.90" y="406.77" font-size="11.5" fill="#fff" text-anchor="start" font-weight="500" >彩妆、香水、</text>
<text x="117.90" y="421.17" font-size="11.5" fill="#fff" text-anchor="start" font-weight="500" >美妆工具</text>
<text x="117.90" y="468.77" font-size="11.5" fill="#fff" text-anchor="start" font-weight="500" >洗护、护肤、</text>
<text x="121.50" y="482.87" font-size="11.5" fill="#fff" text-anchor="start" font-weight="500" >个人护理</text>
<text x="265.40" y="95.00" font-size="11.6" fill="#fff" font-weight="500" style="writing-mode:vertical-rl" ><tspan letter-spacing="-0.35">OE</tspan><tspan letter-spacing="0.7">M</tspan><tspan font-size="14" letter-spacing="0.7">/</tspan><tspan letter-spacing="-0.35">ODM</tspan></text>
<text x="333.00" y="95.00" font-size="11.6" fill="#fff" font-weight="500" style="writing-mode:vertical-rl" ><tspan letter-spacing="-0.35">OE</tspan><tspan letter-spacing="0.7">M</tspan><tspan font-size="14" letter-spacing="0.7">/</tspan><tspan letter-spacing="-0.35">ODM</tspan></text>
<text x="317.40" y="94.60" font-size="11.6" fill="#fff" font-weight="500" style="writing-mode:vertical-rl" >日本制造</text>
<text x="382.90" y="95.00" font-size="11.5" fill="#fff" font-weight="500" style="writing-mode:vertical-rl" ><tspan letter-spacing="4.2">包</tspan>装</text>
<text x="447.70" y="94.30" font-size="10.1" fill="#fff" font-weight="500" style="writing-mode:vertical-rl" >包装设备</text>
<text x="435.20" y="93.60" font-size="10.1" fill="#fff" font-weight="500" style="writing-mode:vertical-rl" >净<tspan letter-spacing="1.4">化/</tspan>乳<tspan letter-spacing="1.4">化/</tspan>搅拌设备</text>
<text x="507.40" y="94.30" font-size="10.1" fill="#fff" font-weight="500" style="writing-mode:vertical-rl" >国际机械、彩妆设备</text>
<text x="495.30" y="94.30" font-size="10.1" fill="#fff" font-weight="500" style="writing-mode:vertical-rl" >包装设备及智能整线</text>
<text x="236.20" y="279.70" font-size="7.9" fill="#fff" text-anchor="start" font-weight="500" >包装</text>
<text x="235.00" y="287.06" font-size="6.2" fill="#fff" text-anchor="start" font-weight="500" >(玻璃、塑料)</text>
<text x="235.80" y="313.85" font-size="7.5" fill="#fff" text-anchor="start" font-weight="500" >纸/盒</text>
<text x="235.80" y="323.35" font-size="7.5" fill="#fff" text-anchor="start" font-weight="500" >/袋包装</text>
<text x="235.40" y="348.22" font-size="6.9" fill="#fff" text-anchor="start" font-weight="500" >印刷及标签、</text>
<text x="235.40" y="356.32" font-size="6.9" fill="#fff" text-anchor="start" font-weight="500" >绿色包装</text>
<text x="235.40" y="385.32" font-size="6.9" fill="#fff" text-anchor="start" font-weight="500" >美妆工具、</text>
<text x="235.40" y="394.22" font-size="6.9" fill="#fff" text-anchor="start" font-weight="500" >牙刷用具</text>
<text x="331.00" y="223.30" font-size="6.05" fill="#fff" text-anchor="start" font-weight="500" fill-opacity="0.85" >创新原料</text>
<text x="331.00" y="230.65" font-size="6.05" fill="#fff" text-anchor="start" font-weight="500" fill-opacity="0.85" >香料香精</text>
<text x="331.00" y="238.21" font-size="6.6" fill="#fff" text-anchor="start" font-weight="400" fill-opacity="0.85" >OEM</text>
<text x="368.00" y="223.30" font-size="6.05" fill="#fff" text-anchor="start" font-weight="500" fill-opacity="0.85" >精油纯露</text>
<text x="368.00" y="230.86" font-size="6.6" fill="#fff" text-anchor="start" font-weight="400" fill-opacity="0.85" >OEM</text>
<text x="368.00" y="238.00" font-size="6.05" fill="#fff" text-anchor="start" font-weight="500" fill-opacity="0.85" >检验检测</text>
<text x="130.20" y="167.52" font-size="9.8" fill="#fff" text-anchor="start" font-weight="500" >北广场</text>
<text x="123.20" y="555.22" font-size="9.8" fill="#fff" text-anchor="start" font-weight="500" >南广场</text>
<text x="618.70" y="167.52" font-size="9.8" fill="#fff" text-anchor="start" font-weight="500" >东广场</text>
<text x="197.70" y="163.55" font-size="14.6" fill="#fff" text-anchor="middle" font-weight="500" >#2号</text>
<text x="198.30" y="177.12" font-size="9.8" fill="#fff" text-anchor="middle" font-weight="500" >入口厅</text>
<text x="194.60" y="545.85" font-size="14.6" fill="#fff" text-anchor="middle" font-weight="500" >#1号</text>
<text x="195.20" y="559.32" font-size="9.8" fill="#fff" text-anchor="middle" font-weight="500" >入口厅</text>
<text x="546.60" y="153.17" font-size="14.4" fill="#fff" text-anchor="start" font-weight="500" >#3号</text>
<text x="579.10" y="152.39" font-size="9.7" fill="#fff" text-anchor="start" font-weight="500" >入口厅</text>
<text x="182.90" y="118.14" font-size="8" fill="#2f260c" text-anchor="start" font-weight="700" >美伊创芯奖</text>
<text x="162.50" y="507.28" font-size="6.8" fill="#1a1a1a" text-anchor="start" font-weight="500" >美伊大赏</text>
<text x="243.00" y="564.38" font-size="6.8" fill="#1a1a1a" text-anchor="start" font-weight="500" >美伊大赏</text>
<text x="563.40" y="116.27" font-size="5.7" fill="#fff" text-anchor="start" font-weight="500" fill-opacity="0.9" >开幕式</text>
<text x="563.40" y="123.74" font-size="5.9" fill="#fff" text-anchor="start" font-weight="500" fill-opacity="0.9" >法国主宾国</text>
<text x="576.10" y="174.92" font-size="8.2" fill="#fff" text-anchor="middle" font-weight="500" fill-opacity="0.97" >CBE循香之旅·上海</text>
<text x="576.40" y="184.98" font-size="8.1" fill="#fff" text-anchor="middle" font-weight="500" fill-opacity="0.97" >香水香氛馆</text>
<polygon points="554.10,110.90 556.04,115.33 560.85,115.81 557.24,119.02 558.27,123.74 554.10,121.30 549.93,123.74 550.96,119.02 547.35,115.81 552.16,115.33" fill="#fff"/>
<g transform="translate(174.30,114.00) scale(0.98)"><g fill="none" stroke="#1f1a10" stroke-linecap="round" transform="translate(0,1.1) scale(1,1.1)"><path d="M-4.3 -5.8 C-6.0 -2 -4.6 1.0 0 0.6" stroke-width="1.9"/><path d="M3.0 -9.2 C6.6 -4.6 5.2 1.0 0 0.6" stroke-width="1.9"/><path d="M0.8 -6.6 C-2.4 -3.8 -1.6 -1.6 0.2 -1.0" stroke-width="1.4"/></g><circle cx="-2.5" cy="-8.2" r="0.9" fill="#1f1a10"/>
<text x="0" y="4.6" font-size="3" font-weight="700" fill="#1f1a10" text-anchor="middle" textLength="10.4" lengthAdjust="spacingAndGlyphs">MEIYI AWARDS</text><text x="0" y="7.2" font-size="3" font-weight="700" fill="#1f1a10" text-anchor="middle" textLength="9.4" lengthAdjust="spacingAndGlyphs">美伊创芯奖</text><rect x="-3.6" y="8.0" width="7.2" height="1.5" fill="#1f1a10"/>
</g>
<g transform="translate(207.10,503.80) scale(0.72)"><g fill="none" stroke="#1f1a10" stroke-linecap="round" transform="translate(0,1.1) scale(1,1.1)"><path d="M-4.3 -5.8 C-6.0 -2 -4.6 1.0 0 0.6" stroke-width="1.9"/><path d="M3.0 -9.2 C6.6 -4.6 5.2 1.0 0 0.6" stroke-width="1.9"/><path d="M0.8 -6.6 C-2.4 -3.8 -1.6 -1.6 0.2 -1.0" stroke-width="1.4"/></g><circle cx="-2.5" cy="-8.2" r="0.9" fill="#1f1a10"/>
<rect x="-4.4" y="2.6" width="8.8" height="2.6" fill="#1f1a10"/>
</g>
<g transform="translate(241.30,541.20) scale(0.72)"><g fill="none" stroke="#1f1a10" stroke-linecap="round" transform="translate(0,1.1) scale(1,1.1)"><path d="M-4.3 -5.8 C-6.0 -2 -4.6 1.0 0 0.6" stroke-width="1.9"/><path d="M3.0 -9.2 C6.6 -4.6 5.2 1.0 0 0.6" stroke-width="1.9"/><path d="M0.8 -6.6 C-2.4 -3.8 -1.6 -1.6 0.2 -1.0" stroke-width="1.4"/></g><circle cx="-2.5" cy="-8.2" r="0.9" fill="#1f1a10"/>
<rect x="-4.4" y="2.6" width="8.8" height="2.6" fill="#1f1a10"/>
</g>
<g transform="translate(238.00,208.30)"><circle r="7.7" fill="#c8423c"/><rect x="-4.1" y="-4.6" width="8.2" height="7.6" rx="1.3" fill="#fff"/><rect x="-3.1" y="-2.5" width="6.2" height="2.2" rx="0.3" fill="#c8423c"/><rect x="-2.2" y="-3.9" width="4.4" height="0.7" fill="#c8423c"/><rect x="-3.4" y="2.6" width="1.7" height="1.6" rx="0.4" fill="#fff"/><rect x="1.7" y="2.6" width="1.7" height="1.6" rx="0.4" fill="#fff"/><circle cx="-2.6" cy="1.3" r="0.6" fill="#c8423c"/><circle cx="2.6" cy="1.3" r="0.6" fill="#c8423c"/></g>
<g transform="translate(536.10,207.90)"><circle r="7.7" fill="#c8423c"/><rect x="-4.1" y="-4.6" width="8.2" height="7.6" rx="1.3" fill="#fff"/><rect x="-3.1" y="-2.5" width="6.2" height="2.2" rx="0.3" fill="#c8423c"/><rect x="-2.2" y="-3.9" width="4.4" height="0.7" fill="#c8423c"/><rect x="-3.4" y="2.6" width="1.7" height="1.6" rx="0.4" fill="#fff"/><rect x="1.7" y="2.6" width="1.7" height="1.6" rx="0.4" fill="#fff"/><circle cx="-2.6" cy="1.3" r="0.6" fill="#c8423c"/><circle cx="2.6" cy="1.3" r="0.6" fill="#c8423c"/></g>
<g transform="translate(239.20,502.20)"><circle r="7.7" fill="#c8423c"/><rect x="-4.1" y="-4.6" width="8.2" height="7.6" rx="1.3" fill="#fff"/><rect x="-3.1" y="-2.5" width="6.2" height="2.2" rx="0.3" fill="#c8423c"/><rect x="-2.2" y="-3.9" width="4.4" height="0.7" fill="#c8423c"/><rect x="-3.4" y="2.6" width="1.7" height="1.6" rx="0.4" fill="#fff"/><rect x="1.7" y="2.6" width="1.7" height="1.6" rx="0.4" fill="#fff"/><circle cx="-2.6" cy="1.3" r="0.6" fill="#c8423c"/><circle cx="2.6" cy="1.3" r="0.6" fill="#c8423c"/></g>
<line x1="168.90" y1="213.60" x2="345.81" y2="127.45" stroke="#184b66" stroke-width="4.7"/>
<polygon points="356.60,122.20 347.08,134.62 345.81,127.45 340.95,122.04" fill="#184b66"/>
<line x1="177.60" y1="279.00" x2="215.12" y2="300.73" stroke="#184b66" stroke-width="4.7"/>
<polygon points="226.80,307.50 209.75,306.00 215.12,300.73 217.02,293.46" fill="#184b66"/>
<line x1="304.50" y1="267.30" x2="363.61" y2="191.75" stroke="#184b66" stroke-width="4.7"/>
<polygon points="371.00,182.30 368.08,197.79 363.61,191.75 356.66,188.86" fill="#184b66"/>
<path d="M92.04 206.94 A63.9 56.7 0 0 1 108.83 201.95 M122.93 201.04 A63.9 56.7 0 0 1 140.24 203.77 M153.57 209.19 A63.9 56.7 0 0 1 167.83 219.60 M177.11 231.40 A63.9 56.7 0 0 1 183.41 247.76 M184.32 260.48 A63.9 56.7 0 0 1 180.37 277.52 M172.42 290.75 A63.9 56.7 0 0 1 159.50 302.62 M145.44 309.90 A63.9 56.7 0 0 1 128.34 313.97 M113.62 314.07 A63.9 56.7 0 0 1 96.45 310.23 M83.02 303.62 A63.9 56.7 0 0 1 69.78 292.19 M61.71 279.92 A63.9 56.7 0 0 1 56.89 263.06 M56.62 256.20 A63.9 56.7 0 0 1 60.18 238.98 M67.18 226.45 A63.9 56.7 0 0 1 79.68 214.08" fill="none" stroke="#1a73c4" stroke-width="4.7"/>
<ellipse cx="386" cy="120.3" rx="28.5" ry="79.5" fill="none" stroke="#1a73c4" stroke-width="4.6" pathLength="11" stroke-dasharray="0.55 0.44999999999999996" stroke-dashoffset="0.525" transform="rotate(0 386 120.3)"/>
<path d="M307.46 285.20 A44 58.6 0 0 1 312.63 302.06 M313.80 316.34 A44 58.6 0 0 1 311.62 333.73 M306.71 347.40 A44 58.6 0 0 1 296.75 361.83 M284.48 370.74 A44 58.6 0 0 1 267.35 374.01 M252.37 369.31 A44 58.6 0 0 1 239.26 357.68 M231.94 345.35 A44 58.6 0 0 1 226.88 328.43 M225.80 315.70 A44 58.6 0 0 1 227.75 298.26 M232.67 284.05 A44 58.6 0 0 1 242.53 269.51 M254.05 260.78 A44 58.6 0 0 1 271.03 256.92 M285.82 260.92 A44 58.6 0 0 1 299.30 272.02" fill="none" stroke="#1a73c4" stroke-width="4.7"/>
<g transform="translate(62.2,99.6)"><circle r="19.049999999999997" fill="#fff" stroke="#d8352b" stroke-width="3.7"/><path d="M-11.7 -1.55 H-9.1 L-4.7 -6.45 L-0.65 -2.6 L3.7 -6.45 L10 0.25 H17.6 V-3.8 H11.2 A11.8 11.8 0 0 0 -11.7 -1.55 Z" fill="#d8352b"/><path d="M-17.6 3.9 H-7.6 L-4.3 0.65 L-0.65 3.9 L3.2 0.65 L6.3 3.9 H11.2 A11.8 11.8 0 0 1 -9.0 7.6 H-17 Z" fill="#d8352b"/></g>
<g transform="translate(63.6,603.4)"><circle r="19.049999999999997" fill="#fff" stroke="#d8352b" stroke-width="3.7"/><path d="M-11.7 -1.55 H-9.1 L-4.7 -6.45 L-0.65 -2.6 L3.7 -6.45 L10 0.25 H17.6 V-3.8 H11.2 A11.8 11.8 0 0 0 -11.7 -1.55 Z" fill="#d8352b"/><path d="M-17.6 3.9 H-7.6 L-4.3 0.65 L-0.65 3.9 L3.2 0.65 L6.3 3.9 H11.2 A11.8 11.8 0 0 1 -9.0 7.6 H-17 Z" fill="#d8352b"/></g>
<text x="62.00" y="132.84" font-size="8.8" fill="#2b2b2b" text-anchor="middle" font-weight="700" >地铁7号线</text>
<text x="62.20" y="142.24" font-size="8.8" fill="#2b2b2b" text-anchor="middle" font-weight="700" >花木路站</text>
<text x="62.00" y="637.09" font-size="8.4" fill="#2b2b2b" text-anchor="middle" font-weight="700" >地铁2号线</text>
<text x="62.20" y="646.59" font-size="8.4" fill="#2b2b2b" text-anchor="middle" font-weight="700" >龙阳路站</text>
<g fill="none" stroke="#333" stroke-width="1"><path d="M184.8 46.5 V22.5 Q184.8 21.3 186 21.3 H201.5 Q202.7 21.3 202.7 22.5 V46.5"/><path d="M209.3 24.2 V21.3" stroke-width="0"/><path d="M209.5 23.5 V21.3 H220 V46.5 M204 24 H217 V46.5"/></g>
<circle cx="193.8" cy="11.8" r="0.7" fill="#333"/>
<rect x="187.2" y="24.3" width="3.3" height="3.3" rx="1" fill="#555"/>
<rect x="192.2" y="24.3" width="3.3" height="3.3" rx="1" fill="#555"/>
<rect x="197.2" y="24.3" width="3.3" height="3.3" rx="1" fill="#555"/>
<rect x="187.2" y="29.9" width="3.3" height="3.3" rx="1" fill="#555"/>
<rect x="192.2" y="29.9" width="3.3" height="3.3" rx="1" fill="#555"/>
<rect x="197.2" y="29.9" width="3.3" height="3.3" rx="1" fill="#555"/>
<rect x="187.2" y="35.5" width="3.3" height="3.3" rx="1" fill="#555"/>
<rect x="192.2" y="35.5" width="3.3" height="3.3" rx="1" fill="#555"/>
<rect x="197.2" y="35.5" width="3.3" height="3.3" rx="1" fill="#555"/>
<rect x="187.2" y="41.1" width="3.3" height="3.3" rx="1" fill="#555"/>
<rect x="192.2" y="41.1" width="3.3" height="3.3" rx="1" fill="#555"/>
<rect x="197.2" y="41.1" width="3.3" height="3.3" rx="1" fill="#555"/>
<rect x="204.8" y="26.3" width="10.4" height="3.6" fill="#555"/>
<rect x="206.6" y="27.4" width="1.4" height="1.3" fill="#fff"/>
<rect x="209.3" y="27.4" width="1.4" height="1.3" fill="#fff"/>
<rect x="212.0" y="27.4" width="1.4" height="1.3" fill="#fff"/>
<rect x="204.8" y="31.5" width="10.4" height="3.6" fill="#555"/>
<rect x="206.6" y="32.6" width="1.4" height="1.3" fill="#fff"/>
<rect x="209.3" y="32.6" width="1.4" height="1.3" fill="#fff"/>
<rect x="212.0" y="32.6" width="1.4" height="1.3" fill="#fff"/>
<rect x="204.8" y="36.7" width="10.4" height="3.6" fill="#555"/>
<rect x="206.6" y="37.8" width="1.4" height="1.3" fill="#fff"/>
<rect x="209.3" y="37.8" width="1.4" height="1.3" fill="#fff"/>
<rect x="212.0" y="37.8" width="1.4" height="1.3" fill="#fff"/>
<rect x="204.8" y="41.9" width="10.4" height="3.6" fill="#555"/>
<rect x="206.6" y="43.0" width="1.4" height="1.3" fill="#fff"/>
<rect x="209.3" y="43.0" width="1.4" height="1.3" fill="#fff"/>
<rect x="212.0" y="43.0" width="1.4" height="1.3" fill="#fff"/>
<rect x="187.2" y="17.9" width="13.9" height="3.6" fill="#3a3a3a"/><rect x="190.5" y="14.3" width="7.4" height="3.8" fill="#3a3a3a"/>
<rect x="188.4" y="19.0" width="1.7" height="1.7" fill="#fff"/>
<rect x="191.7" y="19.0" width="1.7" height="1.7" fill="#fff"/>
<rect x="195.0" y="19.0" width="1.7" height="1.7" fill="#fff"/>
<rect x="198.3" y="19.0" width="1.7" height="1.7" fill="#fff"/>
<rect x="191.7" y="15.5" width="1.7" height="1.7" fill="#fff"/>
<rect x="195.0" y="15.5" width="1.7" height="1.7" fill="#fff"/>
<text x="201.00" y="54.36" font-size="5.95" fill="#333" text-anchor="middle" font-weight="500" >上海浦东嘉里大酒店</text>
<circle cx="682" cy="85.7" r="24.5" fill="#fff" stroke="#1a1a1a" stroke-width="1.5"/>
<text x="668.20" y="91.90" font-size="26" fill="#111" text-anchor="start" font-weight="700" textLength="28.2" lengthAdjust="spacingAndGlyphs">P7</text>
<text x="681.20" y="97.88" font-size="5.2" fill="#222" text-anchor="middle" font-weight="500" >大巴停车场</text>
<circle cx="634.7" cy="234.9" r="23.4" fill="#fff" stroke="#1a1a1a" stroke-width="1.5"/>
<text x="620.60" y="240.50" font-size="24.6" fill="#111" text-anchor="start" font-weight="700" textLength="26" lengthAdjust="spacingAndGlyphs">P1</text>
<text x="633.60" y="247.97" font-size="5.7" fill="#222" text-anchor="middle" font-weight="500" >小车停车场</text>
<circle cx="687.3" cy="157.9" r="22.7" fill="#fff" stroke="#1a1a1a" stroke-width="1.5"/>
<g transform="translate(0,0.6)">
<rect x="680.7" y="147" width="14" height="14.2" rx="3" fill="none" stroke="#1a1a1a" stroke-width="1.2"/>
<rect x="683.2" y="149.6" width="1.1" height="9" fill="#1a1a1a"/>
<rect x="685.7" y="149.8" width="6.6" height="7.8" rx="1.2" fill="#1a1a1a"/>
<rect x="686.6" y="150.8" width="2" height="2.4" fill="#fff"/><rect x="689.4" y="150.8" width="2" height="2.4" fill="#fff"/>
<rect x="686.6" y="154.6" width="1.2" height="1" fill="#fff"/><rect x="690.2" y="154.6" width="1.2" height="1" fill="#fff"/>
<rect x="686.5" y="157.4" width="1.3" height="1.3" fill="#1a1a1a"/><rect x="690.2" y="157.4" width="1.3" height="1.3" fill="#1a1a1a"/>
</g>
<text x="686.80" y="171.53" font-size="6.4" fill="#222" text-anchor="middle" font-weight="500" >上下客站</text>
<g transform="translate(452.8,613.0)">
<circle r="19.4" fill="none" stroke="#a8a8a8" stroke-width="2.6" stroke-dasharray="0.85 2.536"/>
<circle r="10.2" fill="none" stroke="#777" stroke-width="1.3" stroke-dasharray="6 2.4"/>
<g transform="rotate(0)"><polygon points="0,-26.5 1.9,-1.9 0,0 -1.9,-1.9" fill="#555"/><polygon points="0,-26.5 0,0 -1.9,-1.9" fill="#888"/></g>
<g transform="rotate(90)"><polygon points="0,-26.5 1.9,-1.9 0,0 -1.9,-1.9" fill="#555"/><polygon points="0,-26.5 0,0 -1.9,-1.9" fill="#888"/></g>
<g transform="rotate(180)"><polygon points="0,-26.5 1.9,-1.9 0,0 -1.9,-1.9" fill="#555"/><polygon points="0,-26.5 0,0 -1.9,-1.9" fill="#888"/></g>
<g transform="rotate(270)"><polygon points="0,-26.5 1.9,-1.9 0,0 -1.9,-1.9" fill="#555"/><polygon points="0,-26.5 0,0 -1.9,-1.9" fill="#888"/></g>
<circle r="3.6" fill="#ddd" stroke="#777" stroke-width="0.7"/><circle r="1.5" fill="#eee" stroke="#888" stroke-width="0.5"/>
</g>
<text x="452.8" y="583.3" font-family='"Liberation Serif",serif' font-size="7.2" fill="#2e2e2e" text-anchor="middle">N</text>
<text x="452.8" y="648.6" font-family='"Liberation Serif",serif' font-size="7.2" fill="#2e2e2e" text-anchor="middle">S</text>
<text x="419.3" y="616.3" font-family='"Liberation Serif",serif' font-size="7.2" fill="#2e2e2e" text-anchor="middle">W</text>
<text x="485.6" y="616.3" font-family='"Liberation Serif",serif' font-size="7.2" fill="#2e2e2e" text-anchor="middle">E</text>
<rect x="498.40" y="575.70" width="16.50" height="17.20" fill="#b3302b" />
<path d="M507.2 578.2 A9.2 9.2 0 0 0 501.6 591.6" fill="none" stroke="#fff" stroke-width="2.1" stroke-opacity="0.92"/>
<path d="M511.6 582.6 A2.3 2.3 0 1 0 509.6 586.2 A2.9 2.9 0 1 0 512.2 590.6" fill="none" stroke="#fff" stroke-width="1.5" stroke-opacity="0.92"/>
<text x="516.30" y="592.20" font-size="21.4" fill="#b3302b" text-anchor="start" font-weight="700" textLength="37.5" lengthAdjust="spacingAndGlyphs">CBE</text>
<text x="554.30" y="578.20" font-size="3.4" fill="#b3302b" text-anchor="start" font-weight="500" >®</text>
<text x="498.40" y="598.30" font-size="5.7" fill="#3a3a3a" text-anchor="start" font-weight="400" textLength="55.4" lengthAdjust="spacingAndGlyphs">CHINA BEAUTY EXPO</text>
<text x="498.30" y="604.90" font-size="5.5" fill="#2a2a2a" text-anchor="start" font-weight="700" textLength="39.7" lengthAdjust="spacing">中国美容博览会</text>
<text x="579.40" y="594.30" font-size="22.4" fill="#1f1f1f" text-anchor="start" font-weight="500" letter-spacing="1.3">展馆示意图</text>
<rect x="579.70" y="602.60" width="115.50" height="0.80" fill="#d9d9d9" />
<text x="498.30" y="628.60" font-size="16.6" fill="#1f1f1f" text-anchor="start" font-weight="500" textLength="196.8" lengthAdjust="spacing">第29届CBE中国美容博览会</text>
<rect x="497.70" y="637.70" width="198.00" height="12.90" fill="#e6e6e6" />
<text x="501.80" y="648.20" font-size="10.6" fill="#1f1f1f" text-anchor="start" font-weight="500" letter-spacing="-0.1">2025.5.12-14</text>
<rect x="568.60" y="640.40" width="0.70" height="8.00" fill="#444" />
<text x="573.80" y="648.20" font-size="10.6" fill="#1f1f1f" text-anchor="start" font-weight="500" textLength="118.5" lengthAdjust="spacing">上海新国际博览中心(浦东)</text>
</svg>
</body></html>
